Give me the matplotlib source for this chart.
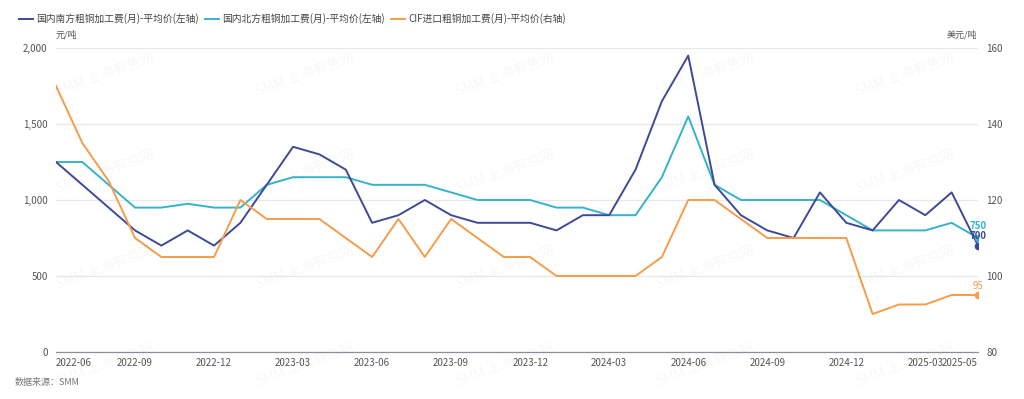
import matplotlib.pyplot as plt
from matplotlib.ticker import FuncFormatter

plt.rcParams['font.family'] = ['Noto Sans CJK SC', 'DejaVu Sans']

# monthly, 2022-06 .. 2025-05
months = [f"{2022 + (5 + i) // 12}-{(5 + i) % 12 + 1:02d}" for i in range(36)]

south_tc = [1250, 1100, 950, 800, 700, 800, 700, 850, 1100, 1350, 1300, 1200,
            850, 900, 1000, 900, 850, 850, 850, 800, 900, 900, 1200, 1650,
            1950, 1100, 900, 800, 750, 1050, 850, 800, 1000, 900, 1050, 700]
north_tc = [1250, 1250, 1100, 950, 950, 975, 950, 950, 1100, 1150, 1150, 1150,
            1100, 1100, 1100, 1050, 1000, 1000, 1000, 950, 950, 900, 900, 1150,
            1550, 1100, 1000, 1000, 1000, 1000, 900, 800, 800, 800, 850, 750]
cif_tc = [150, 135, 125, 110, 105, 105, 105, 120, 115, 115, 115, 110,
          105, 115, 105, 115, 110, 105, 105, 100, 100, 100, 100, 105,
          120, 120, 115, 110, 110, 110, 110, 90, 92.5, 92.5, 95, 95]

series_names = ["国内南方粗铜加工费(月)-平均价(左轴)",
                "国内北方粗铜加工费(月)-平均价(左轴)",
                "CIF进口粗铜加工费(月)-平均价(右轴)"]
colors = ["#3d4a98", "#36b3cb", "#f59d4a"]
tick_idx = list(range(0, 36, 3)) + [35]

fig = plt.figure(figsize=(10.24, 3.99), dpi=100)
ax = fig.add_axes([56 / 1024, 1 - 352 / 399, 922 / 1024, 304 / 399])
ax2 = ax.twinx()

x = list(range(len(months)))
l1, = ax.plot(x, south_tc, color=colors[0], lw=1.4, zorder=4)
l2, = ax.plot(x, north_tc, color=colors[1], lw=1.4, zorder=3)
l3, = ax2.plot(x, cif_tc, color=colors[2], lw=1.4, zorder=3)

# end point markers and value labels
ax.plot(x[-1], north_tc[-1], 'o', color=colors[1], ms=4.5, zorder=5)
ax.plot(x[-1], south_tc[-1], 'o', color=colors[0], ms=4.5, zorder=6)
ax2.plot(x[-1], cif_tc[-1], 'o', color=colors[2], ms=4.5, zorder=5)
ax.annotate(f"{north_tc[-1]}", (x[-1], north_tc[-1]), xytext=(0, 5),
            textcoords='offset points', ha='center', va='bottom',
            color=colors[1], fontsize=7, fontweight='bold', zorder=7)
ax.annotate(f"{south_tc[-1]}", (x[-1], south_tc[-1]), xytext=(0, 3),
            textcoords='offset points', ha='center', va='bottom',
            color=colors[0], fontsize=7, fontweight='bold', zorder=8)
ax2.annotate(f"{cif_tc[-1]:g}", (x[-1], cif_tc[-1]), xytext=(0, 3),
             textcoords='offset points', ha='center', va='bottom',
             color=colors[2], fontsize=7, zorder=7)

ax.set_xlim(0, 35)
ax.set_ylim(0, 2000)
ax.set_yticks(range(0, 2001, 500))
ax.yaxis.set_major_formatter(FuncFormatter(lambda v, p: f"{v:,.0f}"))
ax2.set_ylim(80, 160)
ax2.set_yticks(range(80, 161, 20))

ax.set_xticks(tick_idx)
ax.set_xticklabels([months[i] for i in tick_idx])
labels = ax.get_xticklabels()
labels[0].set_ha('left')
labels[-1].set_ha('right')

ax.grid(axis='y', color='#e8e8ec', lw=0.9)
ax.set_axisbelow(True)
for a in (ax, ax2):
    for s in ('top', 'left', 'right'):
        a.spines[s].set_visible(False)
    a.spines['bottom'].set_color('#8c8f99')
    a.tick_params(length=0, labelsize=7, colors='#555555')
ax.tick_params(axis='y', pad=6)
ax.tick_params(axis='x', pad=4)
ax2.tick_params(axis='y', pad=6)

fig.text(56 / 1024, 1 - 35 / 399, "元/吨", fontsize=6.5, color='#555555',
         va='center', ha='left')
fig.text(977 / 1024, 1 - 35 / 399, "美元/吨", fontsize=6.5, color='#555555',
         va='center', ha='right')

fig.legend([l1, l2, l3], series_names, loc='center left',
           bbox_to_anchor=(10 / 1024, 1 - 19 / 399), ncol=3, frameon=False,
           fontsize=7, handlelength=1.45, handletextpad=0.35, columnspacing=0.6,
           labelcolor='#444444')

fig.text(15 / 1024, 1 - 382 / 399, "数据来源：SMM", fontsize=6.5, color='#777777',
         style='italic', va='center', ha='left')

# faint watermark
for wx in (105, 305, 505, 705, 905):
    for wy in (75, 172, 268, 365):
        fig.text(wx / 1024, 1 - wy / 399, "SMM 上海有色网", fontsize=10,
                 color='#000000', alpha=0.03, rotation=20,
                 ha='center', va='center', zorder=0)

fig.savefig("out.png", dpi=100)
